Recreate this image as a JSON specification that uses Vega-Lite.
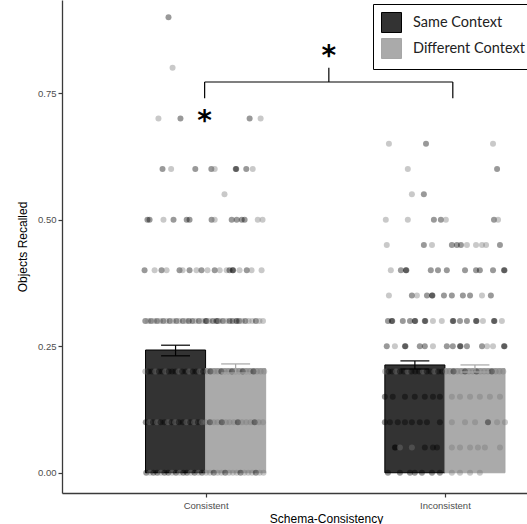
{
"$schema": "https://vega.github.io/schema/vega-lite/v6.json",
"width": 465, "height": 493,
"autosize": {"type": "none"},
"padding": {"left": 62, "top": 0, "right": 0, "bottom": 31},
"background": "white",
"config": {
  "view": {"stroke": null},
  "axis": {"grid": false, "domainColor": "#3a3a3a", "domainWidth": 1.3, "tickColor": "#3a3a3a", "tickSize": 4, "tickWidth": 1.2,
    "labelColor": "#4d4d4d", "labelFont": "Liberation Sans", "labelFontSize": 9.5, "labelPadding": 2,
    "titleFont": "Liberation Sans", "titleFontWeight": "normal", "titleColor": "#000000", "titleFontSize": 12},
  "legend": {"orient": "none", "legendX": 311, "legendY": 4, "padding": 8, "strokeColor": "#000000", "strokeWidth": 1, "fillColor": "#ffffff",
    "symbolType": "square", "symbolSize": 400, "symbolStrokeWidth": 1, "symbolStrokeColor": "#222222", "symbolOpacity": 1,
    "labelFont": "Lato", "labelFontSize": 14.5, "labelColor": "#222222", "labelOffset": 11, "rowPadding": 1}
},
"datasets": {
  "bars": [
    {"g": "Consistent", "c": "Same Context", "x": 0.749, "x2": 1.0, "m": 0.2425},
    {"g": "Consistent", "c": "Different Context", "x": 1.0, "x2": 1.251, "m": 0.206},
    {"g": "Inconsistent", "c": "Same Context", "x": 1.749, "x2": 2.0, "m": 0.213},
    {"g": "Inconsistent", "c": "Different Context", "x": 2.0, "x2": 2.251, "m": 0.206}
  ],
  "err": [
    {"c": "Same Context", "xc": 0.8745, "xl": 0.814, "xr": 0.935, "lo": 0.231, "hi": 0.252},
    {"c": "Different Context", "xc": 1.1255, "xl": 1.065, "xr": 1.186, "lo": 0.197, "hi": 0.215},
    {"c": "Same Context", "xc": 1.8745, "xl": 1.814, "xr": 1.935, "lo": 0.205, "hi": 0.221},
    {"c": "Different Context", "xc": 2.1255, "xl": 2.065, "xr": 2.186, "lo": 0.199, "hi": 0.213}
  ],
  "brk": [
    {"x": 0.996, "x2": 2.033, "y": 0.772, "y2": 0.772},
    {"x": 0.996, "x2": 0.996, "y": 0.772, "y2": 0.740},
    {"x": 2.033, "x2": 2.033, "y": 0.772, "y2": 0.740},
    {"x": 1.515, "x2": 1.515, "y": 0.772, "y2": 0.800}
  ],
  "stars": [
    {"x": 1.515, "y": 0.806, "t": "*"},
    {"x": 0.996, "y": 0.678, "t": "*"}
  ],
  "pts": [
    {"x":0.845,"y":0.9,"c":"S"},{"x":0.862,"y":0.8,"c":"D"},
    {"x":0.803,"y":0.7,"c":"D"},{"x":0.895,"y":0.7,"c":"S"},{"x":1.184,"y":0.7,"c":"S"},{"x":1.230,"y":0.7,"c":"D"},
    {"x":0.820,"y":0.6,"c":"S"},{"x":0.856,"y":0.6,"c":"D"},{"x":0.957,"y":0.6,"c":"S"},{"x":1.024,"y":0.6,"c":"S"},{"x":1.038,"y":0.6,"c":"D"},{"x":1.126,"y":0.6,"c":"S"},{"x":1.128,"y":0.6,"c":"S"},{"x":1.170,"y":0.6,"c":"S"},{"x":1.197,"y":0.6,"c":"D"},
    {"x":1.079,"y":0.55,"c":"D"},
    {"x":0.757,"y":0.5,"c":"S"},{"x":0.766,"y":0.5,"c":"S"},{"x":0.824,"y":0.5,"c":"D"},{"x":0.866,"y":0.5,"c":"S"},{"x":0.921,"y":0.5,"c":"S"},{"x":0.933,"y":0.5,"c":"S"},{"x":1.025,"y":0.5,"c":"S"},{"x":1.038,"y":0.5,"c":"D"},{"x":1.109,"y":0.5,"c":"S"},{"x":1.130,"y":0.5,"c":"S"},{"x":1.151,"y":0.5,"c":"S"},{"x":1.163,"y":0.5,"c":"S"},{"x":1.218,"y":0.5,"c":"D"},{"x":1.238,"y":0.5,"c":"D"},
    {"x":0.745,"y":0.4,"c":"S"},{"x":0.787,"y":0.4,"c":"D"},{"x":0.816,"y":0.4,"c":"S"},{"x":0.837,"y":0.4,"c":"D"},{"x":0.891,"y":0.4,"c":"S"},{"x":0.904,"y":0.4,"c":"D"},{"x":0.933,"y":0.4,"c":"S"},{"x":0.962,"y":0.4,"c":"D"},{"x":0.983,"y":0.4,"c":"S"},{"x":1.008,"y":0.4,"c":"D"},{"x":1.038,"y":0.4,"c":"S"},{"x":1.059,"y":0.4,"c":"D"},{"x":1.088,"y":0.4,"c":"D"},{"x":1.100,"y":0.4,"c":"S"},{"x":1.113,"y":0.4,"c":"S"},{"x":1.115,"y":0.4,"c":"S"},{"x":1.142,"y":0.4,"c":"D"},{"x":1.172,"y":0.4,"c":"S"},{"x":1.192,"y":0.4,"c":"D"},{"x":1.234,"y":0.4,"c":"D"},
    {"x":0.748,"y":0.3,"c":"S"},{"x":0.760,"y":0.3,"c":"D"},{"x":0.772,"y":0.3,"c":"S"},{"x":0.785,"y":0.3,"c":"D"},{"x":0.797,"y":0.3,"c":"S"},{"x":0.810,"y":0.3,"c":"D"},{"x":0.823,"y":0.3,"c":"S"},{"x":0.836,"y":0.3,"c":"D"},{"x":0.850,"y":0.3,"c":"S"},{"x":0.864,"y":0.3,"c":"D"},{"x":0.878,"y":0.3,"c":"S"},{"x":0.890,"y":0.3,"c":"D"},{"x":0.905,"y":0.3,"c":"S"},{"x":0.918,"y":0.3,"c":"D"},{"x":0.930,"y":0.3,"c":"S"},{"x":0.945,"y":0.3,"c":"S"},{"x":0.958,"y":0.3,"c":"D"},{"x":0.972,"y":0.3,"c":"S"},{"x":0.985,"y":0.3,"c":"D"},{"x":1.000,"y":0.3,"c":"S"},{"x":1.004,"y":0.3,"c":"S"},{"x":1.015,"y":0.3,"c":"D"},{"x":1.030,"y":0.3,"c":"S"},{"x":1.045,"y":0.3,"c":"S"},{"x":1.050,"y":0.3,"c":"S"},{"x":1.058,"y":0.3,"c":"D"},{"x":1.072,"y":0.3,"c":"S"},{"x":1.086,"y":0.3,"c":"D"},{"x":1.100,"y":0.3,"c":"S"},{"x":1.112,"y":0.3,"c":"S"},{"x":1.126,"y":0.3,"c":"D"},{"x":1.130,"y":0.3,"c":"S"},{"x":1.140,"y":0.3,"c":"S"},{"x":1.152,"y":0.3,"c":"D"},{"x":1.166,"y":0.3,"c":"S"},{"x":1.180,"y":0.3,"c":"D"},{"x":1.195,"y":0.3,"c":"D"},{"x":1.210,"y":0.3,"c":"S"},{"x":1.225,"y":0.3,"c":"D"},{"x":1.240,"y":0.3,"c":"D"},
    {"x":0.748,"y":0.2,"c":"D"},{"x":0.762,"y":0.2,"c":"S"},{"x":0.775,"y":0.2,"c":"S"},{"x":0.790,"y":0.2,"c":"D"},{"x":0.805,"y":0.2,"c":"S"},{"x":0.818,"y":0.2,"c":"S"},{"x":0.832,"y":0.2,"c":"D"},{"x":0.846,"y":0.2,"c":"S"},{"x":0.860,"y":0.2,"c":"S"},{"x":0.874,"y":0.2,"c":"S"},{"x":0.888,"y":0.2,"c":"D"},{"x":0.902,"y":0.2,"c":"S"},{"x":0.917,"y":0.2,"c":"S"},{"x":0.931,"y":0.2,"c":"D"},{"x":0.946,"y":0.2,"c":"S"},{"x":0.960,"y":0.2,"c":"S"},{"x":0.975,"y":0.2,"c":"D"},{"x":0.990,"y":0.2,"c":"S"},{"x":1.005,"y":0.2,"c":"D"},{"x":1.020,"y":0.2,"c":"S"},{"x":1.036,"y":0.2,"c":"D"},{"x":1.050,"y":0.2,"c":"D"},{"x":1.066,"y":0.2,"c":"S"},{"x":1.080,"y":0.2,"c":"D"},{"x":1.095,"y":0.2,"c":"D"},{"x":1.110,"y":0.2,"c":"S"},{"x":1.125,"y":0.2,"c":"D"},{"x":1.140,"y":0.2,"c":"D"},{"x":1.155,"y":0.2,"c":"S"},{"x":1.170,"y":0.2,"c":"D"},{"x":1.185,"y":0.2,"c":"D"},{"x":1.200,"y":0.2,"c":"S"},{"x":1.215,"y":0.2,"c":"D"},{"x":1.230,"y":0.2,"c":"D"},{"x":1.245,"y":0.2,"c":"D"},
    {"x":0.750,"y":0.1,"c":"S"},{"x":0.765,"y":0.1,"c":"D"},{"x":0.780,"y":0.1,"c":"S"},{"x":0.797,"y":0.1,"c":"D"},{"x":0.812,"y":0.1,"c":"S"},{"x":0.828,"y":0.1,"c":"S"},{"x":0.843,"y":0.1,"c":"D"},{"x":0.858,"y":0.1,"c":"S"},{"x":0.873,"y":0.1,"c":"D"},{"x":0.888,"y":0.1,"c":"S"},{"x":0.905,"y":0.1,"c":"S"},{"x":0.920,"y":0.1,"c":"D"},{"x":0.936,"y":0.1,"c":"S"},{"x":0.952,"y":0.1,"c":"D"},{"x":0.968,"y":0.1,"c":"S"},{"x":0.984,"y":0.1,"c":"D"},{"x":1.000,"y":0.1,"c":"D"},{"x":1.018,"y":0.1,"c":"S"},{"x":1.034,"y":0.1,"c":"D"},{"x":1.050,"y":0.1,"c":"D"},{"x":1.068,"y":0.1,"c":"S"},{"x":1.085,"y":0.1,"c":"D"},{"x":1.100,"y":0.1,"c":"D"},{"x":1.118,"y":0.1,"c":"D"},{"x":1.135,"y":0.1,"c":"S"},{"x":1.152,"y":0.1,"c":"D"},{"x":1.170,"y":0.1,"c":"D"},{"x":1.188,"y":0.1,"c":"D"},{"x":1.205,"y":0.1,"c":"S"},{"x":1.222,"y":0.1,"c":"D"},{"x":1.240,"y":0.1,"c":"D"},
    {"x":0.752,"y":0,"c":"S"},{"x":0.768,"y":0,"c":"D"},{"x":0.782,"y":0,"c":"S"},{"x":0.798,"y":0,"c":"S"},{"x":0.813,"y":0,"c":"D"},{"x":0.828,"y":0,"c":"S"},{"x":0.844,"y":0,"c":"S"},{"x":0.860,"y":0,"c":"D"},{"x":0.876,"y":0,"c":"S"},{"x":0.892,"y":0,"c":"D"},{"x":0.907,"y":0,"c":"S"},{"x":0.922,"y":0,"c":"S"},{"x":0.938,"y":0,"c":"D"},{"x":0.954,"y":0,"c":"S"},{"x":0.970,"y":0,"c":"D"},{"x":0.985,"y":0,"c":"S"},{"x":1.002,"y":0,"c":"D"},{"x":1.018,"y":0,"c":"D"},{"x":1.034,"y":0,"c":"S"},{"x":1.050,"y":0,"c":"D"},{"x":1.066,"y":0,"c":"D"},{"x":1.082,"y":0,"c":"S"},{"x":1.098,"y":0,"c":"D"},{"x":1.114,"y":0,"c":"D"},{"x":1.130,"y":0,"c":"D"},{"x":1.146,"y":0,"c":"S"},{"x":1.162,"y":0,"c":"D"},{"x":1.178,"y":0,"c":"D"},{"x":1.194,"y":0,"c":"D"},{"x":1.210,"y":0,"c":"S"},{"x":1.226,"y":0,"c":"D"},{"x":1.242,"y":0,"c":"D"},
    {"x":1.766,"y":0.65,"c":"D"},{"x":1.921,"y":0.65,"c":"S"},{"x":2.201,"y":0.65,"c":"D"},
    {"x":1.845,"y":0.6,"c":"D"},{"x":2.218,"y":0.6,"c":"S"},
    {"x":1.862,"y":0.55,"c":"D"},{"x":1.912,"y":0.55,"c":"S"},
    {"x":1.753,"y":0.5,"c":"D"},{"x":1.845,"y":0.5,"c":"D"},{"x":1.954,"y":0.5,"c":"S"},{"x":1.983,"y":0.5,"c":"S"},{"x":2.004,"y":0.5,"c":"D"},{"x":2.205,"y":0.5,"c":"S"},{"x":2.222,"y":0.5,"c":"D"},
    {"x":1.757,"y":0.45,"c":"D"},{"x":1.912,"y":0.45,"c":"S"},{"x":1.946,"y":0.45,"c":"D"},{"x":2.029,"y":0.45,"c":"S"},{"x":2.050,"y":0.45,"c":"S"},{"x":2.067,"y":0.45,"c":"S"},{"x":2.092,"y":0.45,"c":"D"},{"x":2.130,"y":0.45,"c":"D"},{"x":2.155,"y":0.45,"c":"D"},{"x":2.172,"y":0.45,"c":"D"},{"x":2.230,"y":0.45,"c":"S"},
    {"x":1.774,"y":0.4,"c":"D"},{"x":1.816,"y":0.4,"c":"S"},{"x":1.837,"y":0.4,"c":"S"},{"x":1.839,"y":0.4,"c":"S"},{"x":1.941,"y":0.4,"c":"S"},{"x":1.971,"y":0.4,"c":"S"},{"x":2.008,"y":0.4,"c":"S"},{"x":2.084,"y":0.4,"c":"S"},{"x":2.130,"y":0.4,"c":"S"},{"x":2.146,"y":0.4,"c":"S"},{"x":2.201,"y":0.4,"c":"S"},{"x":2.247,"y":0.4,"c":"S"},{"x":2.249,"y":0.4,"c":"S"},
    {"x":1.766,"y":0.35,"c":"D"},{"x":1.862,"y":0.35,"c":"S"},{"x":1.883,"y":0.35,"c":"D"},{"x":1.925,"y":0.35,"c":"S"},{"x":1.946,"y":0.35,"c":"S"},{"x":1.948,"y":0.35,"c":"S"},{"x":1.996,"y":0.35,"c":"S"},{"x":2.029,"y":0.35,"c":"S"},{"x":2.075,"y":0.35,"c":"S"},{"x":2.105,"y":0.35,"c":"S"},{"x":2.155,"y":0.35,"c":"D"},{"x":2.192,"y":0.35,"c":"S"},
    {"x":1.762,"y":0.3,"c":"S"},{"x":1.778,"y":0.3,"c":"S"},{"x":1.780,"y":0.3,"c":"S"},{"x":1.824,"y":0.3,"c":"S"},{"x":1.854,"y":0.3,"c":"S"},{"x":1.874,"y":0.3,"c":"S"},{"x":1.876,"y":0.3,"c":"S"},{"x":1.916,"y":0.3,"c":"S"},{"x":1.918,"y":0.3,"c":"S"},{"x":1.950,"y":0.3,"c":"D"},{"x":1.987,"y":0.3,"c":"D"},{"x":2.033,"y":0.3,"c":"S"},{"x":2.035,"y":0.3,"c":"S"},{"x":2.063,"y":0.3,"c":"S"},{"x":2.092,"y":0.3,"c":"S"},{"x":2.130,"y":0.3,"c":"S"},{"x":2.132,"y":0.3,"c":"S"},{"x":2.159,"y":0.3,"c":"D"},{"x":2.205,"y":0.3,"c":"S"},{"x":2.207,"y":0.3,"c":"S"},{"x":2.238,"y":0.3,"c":"D"},
    {"x":1.757,"y":0.25,"c":"S"},{"x":1.791,"y":0.25,"c":"D"},{"x":1.833,"y":0.25,"c":"S"},{"x":1.835,"y":0.25,"c":"S"},{"x":1.895,"y":0.25,"c":"S"},{"x":1.916,"y":0.25,"c":"S"},{"x":1.950,"y":0.25,"c":"D"},{"x":2.008,"y":0.25,"c":"S"},{"x":2.033,"y":0.25,"c":"S"},{"x":2.063,"y":0.25,"c":"S"},{"x":2.065,"y":0.25,"c":"S"},{"x":2.092,"y":0.25,"c":"S"},{"x":2.155,"y":0.25,"c":"S"},{"x":2.176,"y":0.25,"c":"D"},{"x":2.201,"y":0.25,"c":"D"},{"x":2.247,"y":0.25,"c":"S"},{"x":2.249,"y":0.25,"c":"S"},
    {"x":1.750,"y":0.2,"c":"D"},{"x":1.765,"y":0.2,"c":"S"},{"x":1.780,"y":0.2,"c":"S"},{"x":1.796,"y":0.2,"c":"D"},{"x":1.812,"y":0.2,"c":"S"},{"x":1.828,"y":0.2,"c":"S"},{"x":1.844,"y":0.2,"c":"D"},{"x":1.860,"y":0.2,"c":"S"},{"x":1.876,"y":0.2,"c":"S"},{"x":1.892,"y":0.2,"c":"S"},{"x":1.908,"y":0.2,"c":"D"},{"x":1.924,"y":0.2,"c":"S"},{"x":1.940,"y":0.2,"c":"S"},{"x":1.956,"y":0.2,"c":"D"},{"x":1.972,"y":0.2,"c":"S"},{"x":1.988,"y":0.2,"c":"S"},{"x":2.004,"y":0.2,"c":"D"},{"x":2.020,"y":0.2,"c":"D"},{"x":2.036,"y":0.2,"c":"S"},{"x":2.052,"y":0.2,"c":"D"},{"x":2.068,"y":0.2,"c":"D"},{"x":2.084,"y":0.2,"c":"S"},{"x":2.100,"y":0.2,"c":"D"},{"x":2.116,"y":0.2,"c":"D"},{"x":2.132,"y":0.2,"c":"S"},{"x":2.148,"y":0.2,"c":"D"},{"x":2.164,"y":0.2,"c":"D"},{"x":2.180,"y":0.2,"c":"D"},{"x":2.196,"y":0.2,"c":"S"},{"x":2.212,"y":0.2,"c":"D"},{"x":2.228,"y":0.2,"c":"D"},{"x":2.244,"y":0.2,"c":"D"},
    {"x":1.749,"y":0.15,"c":"S"},{"x":1.782,"y":0.15,"c":"S"},{"x":1.833,"y":0.15,"c":"S"},{"x":1.874,"y":0.15,"c":"S"},{"x":1.916,"y":0.15,"c":"S"},{"x":1.950,"y":0.15,"c":"S"},{"x":1.979,"y":0.15,"c":"S"},{"x":2.029,"y":0.15,"c":"D"},{"x":2.063,"y":0.15,"c":"D"},{"x":2.105,"y":0.15,"c":"D"},{"x":2.146,"y":0.15,"c":"D"},{"x":2.188,"y":0.15,"c":"D"},{"x":2.230,"y":0.15,"c":"D"},
    {"x":1.749,"y":0.1,"c":"S"},{"x":1.770,"y":0.1,"c":"S"},{"x":1.803,"y":0.1,"c":"S"},{"x":1.833,"y":0.1,"c":"S"},{"x":1.862,"y":0.1,"c":"S"},{"x":1.895,"y":0.1,"c":"S"},{"x":1.925,"y":0.1,"c":"S"},{"x":1.979,"y":0.1,"c":"S"},{"x":2.029,"y":0.1,"c":"D"},{"x":2.084,"y":0.1,"c":"D"},{"x":2.126,"y":0.1,"c":"D"},{"x":2.180,"y":0.1,"c":"S"},{"x":2.218,"y":0.1,"c":"D"},{"x":2.251,"y":0.1,"c":"D"},
    {"x":1.791,"y":0.05,"c":"S"},{"x":1.793,"y":0.05,"c":"S"},{"x":1.812,"y":0.05,"c":"D"},{"x":1.862,"y":0.05,"c":"D"},{"x":1.916,"y":0.05,"c":"S"},{"x":1.950,"y":0.05,"c":"S"},{"x":1.967,"y":0.05,"c":"S"},{"x":2.029,"y":0.05,"c":"D"},{"x":2.063,"y":0.05,"c":"D"},{"x":2.105,"y":0.05,"c":"D"},{"x":2.138,"y":0.05,"c":"D"},{"x":2.167,"y":0.05,"c":"D"},{"x":2.230,"y":0.05,"c":"D"},
    {"x":1.762,"y":0,"c":"S"},{"x":1.812,"y":0,"c":"S"},{"x":1.854,"y":0,"c":"S"},{"x":1.874,"y":0,"c":"S"},{"x":1.904,"y":0,"c":"S"},{"x":1.946,"y":0,"c":"S"},{"x":1.979,"y":0,"c":"S"},{"x":2.029,"y":0,"c":"D"},{"x":2.063,"y":0,"c":"D"},{"x":2.105,"y":0,"c":"D"},{"x":2.146,"y":0,"c":"D"}
  ]
},
"layer": [
  {
    "data": {"name": "bars"},
    "mark": {"type": "bar", "strokeWidth": 1},
    "encoding": {
      "x": {"field": "x", "type": "quantitative", "scale": {"domain": [0.4, 2.343], "nice": false, "zero": false},
        "axis": {"values": [1, 2], "labelExpr": "datum.value == 1 ? 'Consistent' : 'Inconsistent'", "title": "Schema-Consistency", "titleX": 264, "titleY": 29, "titleBaseline": "alphabetic", "labelPadding": 3}},
      "x2": {"field": "x2"},
      "y": {"field": "m", "type": "quantitative", "scale": {"domain": [-0.04, 0.934], "nice": false, "zero": false},
        "axis": {"values": [0, 0.25, 0.5, 0.75], "format": ".2f", "title": "Objects Recalled", "titlePadding": 8}},
      "y2": {"datum": 0},
      "color": {"field": "c", "type": "nominal", "scale": {"domain": ["Same Context", "Different Context"], "range": ["#333333", "#aaaaaa"]}, "legend": {"title": null}},
      "stroke": {"field": "c", "type": "nominal", "scale": {"domain": ["Same Context", "Different Context"], "range": ["#000000", "#a6a6a6"]}, "legend": null}
    }
  },
  {
    "data": {"name": "pts"},
    "mark": {"type": "circle", "size": 36, "opacity": 0.4},
    "encoding": {
      "x": {"field": "x", "type": "quantitative"},
      "y": {"field": "y", "type": "quantitative"},
      "fill": {"field": "c", "type": "nominal", "scale": {"domain": ["S", "D"], "range": ["#000000", "#777777"]}, "legend": null}
    }
  },
  {
    "data": {"name": "err"},
    "mark": {"type": "rule", "strokeWidth": 1.2},
    "encoding": {
      "x": {"field": "xc", "type": "quantitative"},
      "y": {"field": "lo", "type": "quantitative"},
      "y2": {"field": "hi"},
      "stroke": {"field": "c", "type": "nominal", "legend": null}
    }
  },
  {
    "data": {"name": "err"},
    "mark": {"type": "rule", "strokeWidth": 1.2},
    "encoding": {
      "x": {"field": "xl", "type": "quantitative"},
      "x2": {"field": "xr"},
      "y": {"field": "hi", "type": "quantitative"},
      "stroke": {"field": "c", "type": "nominal", "legend": null}
    }
  },
  {
    "data": {"name": "err"},
    "mark": {"type": "rule", "strokeWidth": 1.2},
    "encoding": {
      "x": {"field": "xl", "type": "quantitative"},
      "x2": {"field": "xr"},
      "y": {"field": "lo", "type": "quantitative"},
      "stroke": {"field": "c", "type": "nominal", "legend": null}
    }
  },
  {
    "data": {"name": "brk"},
    "mark": {"type": "rule", "color": "#000000", "strokeWidth": 1.2},
    "encoding": {
      "x": {"field": "x", "type": "quantitative"},
      "x2": {"field": "x2"},
      "y": {"field": "y", "type": "quantitative"},
      "y2": {"field": "y2"}
    }
  },
  {
    "data": {"name": "stars"},
    "mark": {"type": "text", "font": "DejaVu Sans", "fontWeight": "bold", "fontSize": 28, "baseline": "alphabetic", "align": "center", "color": "#000000"},
    "encoding": {
      "x": {"field": "x", "type": "quantitative"},
      "y": {"field": "y", "type": "quantitative"},
      "text": {"field": "t"}
    }
  }
]
}
